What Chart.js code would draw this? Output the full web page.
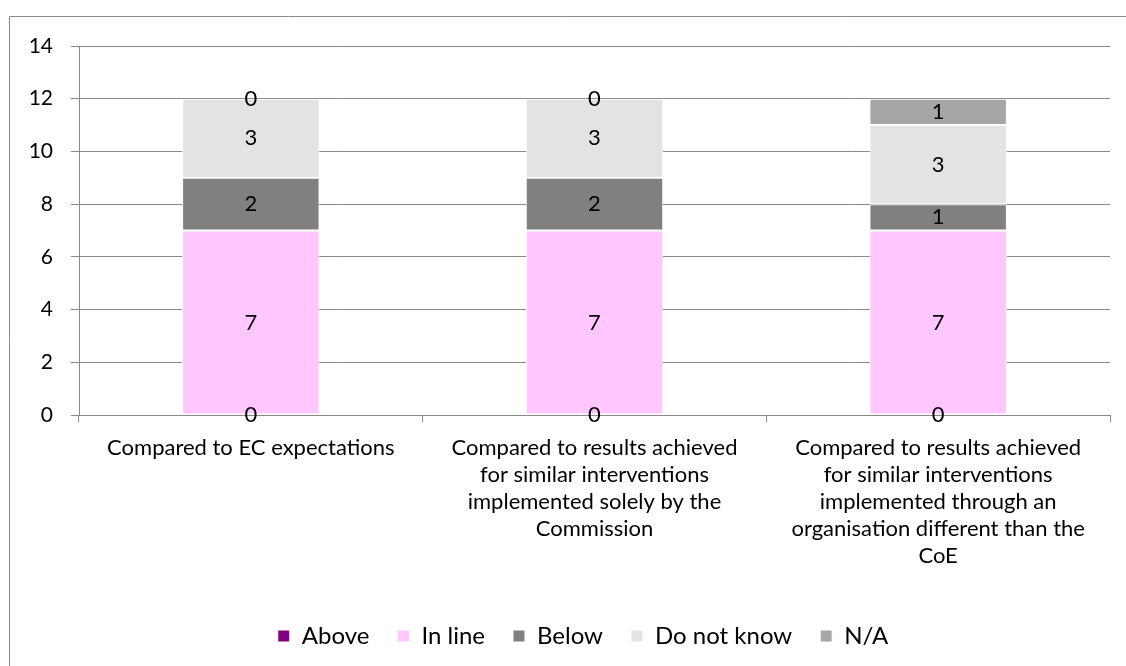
<!DOCTYPE html>
<html lang="en">
<head>
    <meta charset="UTF-8">
    <title>Results comparison</title>
    <script src="https://cdn.jsdelivr.net/npm/chart.js"></script>
    <style>
        body {
            margin: 0;
            padding: 0;
            background: #fff;
        }
        .chart-box {
            width: 1126px;
            height: 666px;
            position: relative;
        }
    </style>
</head>
<body>
    <div class="chart-box">
        <canvas id="stackChart"></canvas>
    </div>
    <script>
        const categories = [
            ['Compared to EC expectations'],
            ['Compared to results achieved', 'for similar interventions', 'implemented solely by the', 'Commission'],
            ['Compared to results achieved', 'for similar interventions', 'implemented through an', 'organisation different than the', 'CoE']
        ];
        const seriesNames = ['Above', 'In line', 'Below', 'Do not know', 'N/A'];
        const above = [0, 0, 0];
        const inLine = [7, 7, 7];
        const below = [2, 2, 1];
        const doNotKnow = [3, 3, 3];
        const notApplicable = [0, 0, 1];
        const yTicks = [0, 2, 4, 6, 8, 10, 12, 14];

        const colours = ['#800080', '#ffc6ff', '#808080', '#e3e3e3', '#a6a6a6'];
        const FONT = 'Lato, "Noto Sans", sans-serif';
        const gridGrey = '#898989';

        // values in the middle of each segment
        const valueLabels = {
            id: 'valueLabels',
            afterDatasetsDraw(chart) {
                const ctx = chart.ctx;
                ctx.save();
                ctx.font = '22px ' + FONT;
                ctx.fillStyle = '#000';
                ctx.textAlign = 'center';
                ctx.textBaseline = 'middle';
                chart.data.datasets.forEach((ds, i) => {
                    const meta = chart.getDatasetMeta(i);
                    meta.data.forEach((bar, j) => {
                        ctx.fillText(String(ds.data[j]), bar.x, (bar.y + bar.base) / 2);
                    });
                });
                ctx.restore();
            }
        };

        // frame round the whole chart, legend nudged right like the original
        const outerFrame = {
            id: 'outerFrame',
            afterLayout(chart) {
                chart.legend.left += 28;
                chart.legend.right += 28;
            },
            beforeDraw(chart) {
                const ctx = chart.ctx;
                ctx.save();
                ctx.strokeStyle = '#8c8c8c';
                ctx.lineWidth = 1;
                ctx.beginPath();
                ctx.moveTo(9.5, chart.height);
                ctx.lineTo(9.5, 16.5);
                ctx.lineTo(chart.width, 16.5);
                ctx.stroke();
                ctx.restore();
            }
        };

        const allSeries = [above, inLine, below, doNotKnow, notApplicable];

        const ctx = document.getElementById('stackChart').getContext('2d');
        new Chart(ctx, {
            type: 'bar',
            data: {
                labels: categories,
                datasets: allSeries.map((vals, i) => ({
                    label: seriesNames[i],
                    data: vals,
                    backgroundColor: colours[i],
                    borderColor: '#ffffff',
                    borderWidth: 1,
                    borderSkipped: false,
                    barPercentage: 0.4,
                    categoryPercentage: 1.0
                }))
            },
            options: {
                responsive: true,
                maintainAspectRatio: false,
                animation: false,
                layout: {
                    padding: { left: 0, right: 16, top: 46, bottom: 8 }
                },
                plugins: {
                    tooltip: { enabled: false },
                    legend: {
                        position: 'bottom',
                        labels: {
                            boxWidth: 12,
                            boxHeight: 12,
                            padding: 28,
                            color: '#000',
                            font: { family: FONT, size: 24 }
                        }
                    }
                },
                scales: {
                    x: {
                        stacked: true,
                        grid: {
                            offset: true,
                            drawOnChartArea: false,
                            drawTicks: true,
                            tickLength: 7,
                            color: gridGrey
                        },
                        border: { color: gridGrey },
                        ticks: {
                            color: '#000',
                            padding: 12,
                            maxRotation: 0,
                            autoSkip: false,
                            font: { family: FONT, size: 22, lineHeight: 1.23 }
                        },
                        afterFit(scale) { scale.height = 181; }
                    },
                    y: {
                        stacked: true,
                        min: 0,
                        max: 14,
                        afterBuildTicks(scale) {
                            scale.ticks = yTicks.map(v => ({ value: v }));
                        },
                        grid: {
                            color: gridGrey,
                            tickLength: 8
                        },
                        border: { color: gridGrey },
                        ticks: {
                            color: '#000',
                            padding: 18,
                            font: { family: FONT, size: 21 }
                        },
                        afterFit(scale) { scale.width = 79; }
                    }
                }
            },
            plugins: [outerFrame, valueLabels]
        });
    </script>
</body>
</html>
